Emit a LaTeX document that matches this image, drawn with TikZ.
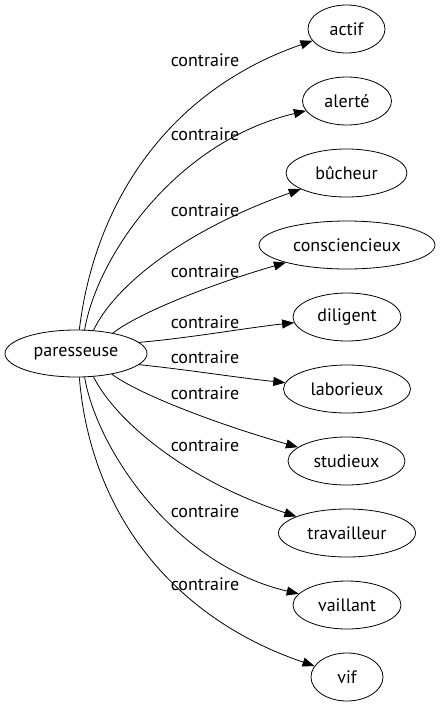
\documentclass[tikz,border=0pt]{standalone}
\usepackage{fontspec}
\setmainfont{PT Sans}
\usetikzlibrary{shapes.geometric,arrows.meta}
\begin{document}
\begin{tikzpicture}[x=1pt,y=-1pt,
  every node/.style={font=\fontsize{18}{20}\selectfont},
  term/.style={draw, ellipse, inner sep=0pt, minimum height=48pt, line width=0.8pt},
  lab/.style={inner sep=0pt},
  edge/.style={draw, line width=0.8pt, -{Triangle[length=12pt,width=9pt]}}]
\useasboundingbox (0,0) rectangle (440,707);
\node[term, minimum width=142pt, minimum height=47pt] (p) at (76,353.5) {paresseuse};
\node[term, minimum width=77pt]  (n1)  at (346.5,29)  {actif};
\node[term, minimum width=89pt]  (n2)  at (347,101)   {alerté};
\node[term, minimum width=121pt] (n3)  at (346.5,173) {bûcheur};
\node[term, minimum width=176pt] (n4)  at (347,245)   {consciencieux};
\node[term, minimum width=108pt] (n5)  at (347,317)   {diligent};
\node[term, minimum width=127pt] (n6)  at (347,389)   {laborieux};
\node[term, minimum width=117pt] (n7)  at (346.5,461) {studieux};
\node[term, minimum width=137pt] (n8)  at (347,533)   {travailleur};
\node[term, minimum width=108pt] (n9)  at (347,605)   {vaillant};
\node[term, minimum width=72pt]  (n10) at (347,677)   {vif};
\node[lab] (l1)  at (205,60)  {contraire};
\node[lab] (l2)  at (205,134) {contraire};
\node[lab] (l3)  at (205,210) {contraire};
\node[lab] (l4)  at (205,271) {contraire};
\node[lab] (l5)  at (205,322) {contraire};
\node[lab] (l6)  at (205,357) {contraire};
\node[lab] (l7)  at (205,393) {contraire};
\node[lab] (l8)  at (205,445) {contraire};
\node[lab] (l9)  at (205,511) {contraire};
\node[lab] (l10) at (205,584) {contraire};
\path[edge] (p.82) .. controls (95,200) and (170,90) .. (n1);
\path[edge] (p.70) .. controls (97,257) and (175,142) .. (n2);
\path[edge] (p.53) .. controls (115,285) and (185,230) .. (n3);
\path[edge] (p.29) .. controls (140,312) and (215,283) .. (n4);
\path[edge] (p.10) .. controls (190,338) and (245,328) .. (n5);
\path[edge] (p.-10) .. controls (190,370) and (240,378) .. (n6);
\path[edge] (p.-30) .. controls (140,395) and (220,425) .. (n7);
\path[edge] (p.-53) .. controls (115,420) and (185,480) .. (n8);
\path[edge] (p.-70) .. controls (97,450) and (175,565) .. (n9);
\path[edge] (p.-82) .. controls (90,510) and (170,617) .. (n10);
\end{tikzpicture}
\end{document}
